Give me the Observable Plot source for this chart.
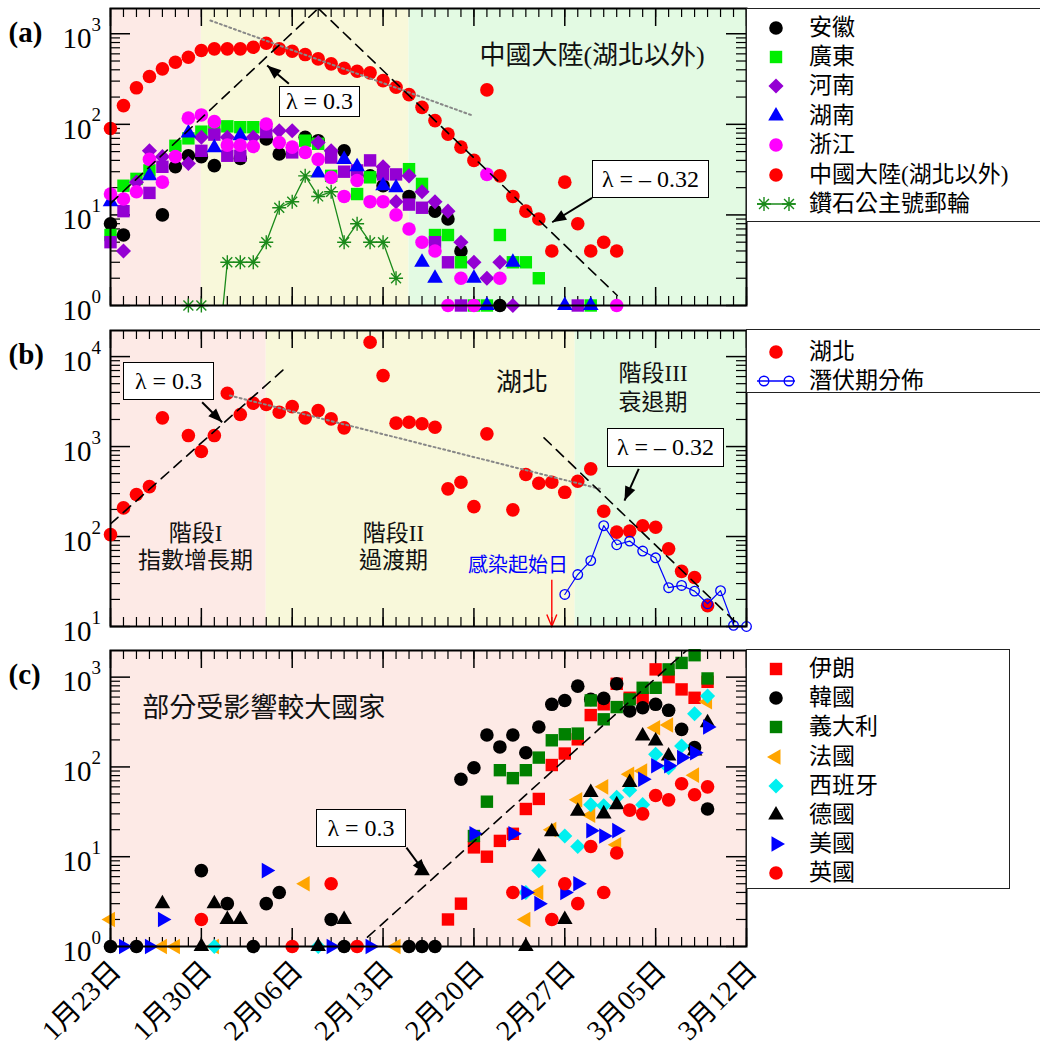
<!DOCTYPE html>
<html><head><meta charset="utf-8">
<script src="https://cdn.jsdelivr.net/npm/d3@7"></script>
<script src="https://cdn.jsdelivr.net/npm/@observablehq/plot@0.6"></script>
<style>
body{margin:0;background:#fff;}
#wrap{position:relative;width:1040px;height:1049px;overflow:hidden;font-family:'Liberation Serif','Noto Sans CJK TC',serif;}
.panel{position:absolute;left:0;}
.lbox{position:absolute;border:1.5px solid #000;background:#fff;font-size:24px;display:flex;align-items:center;justify-content:center;white-space:nowrap;box-sizing:border-box}
.legend{position:absolute;border:1.2px solid #222;background:#fff;box-sizing:border-box}
.legend .txt{position:absolute;left:62px;font-size:23px;line-height:28px;height:28px;white-space:nowrap}
</style></head><body><div id="wrap"></div><script>
// ---------- axis data ----------
const xTickDays = [0,7,14,21,28,35,42,49];
const xTickLabels = ["1月23日","1月30日","2月06日","2月13日","2月20日","2月27日","3月05日","3月12日"];
const allDays = d3.range(0,50);

// ---------- panel (a) : [day, value] ----------
const anhui = [[0,8],[1,6],[4,10],[5,34],[6,45],[7,44],[8,35],[10,42],[12,69],[13,47],[15,72],[16,66],[18,51],[20,27],[21,21],[23,16],[25,11],[26,9],[27,4],[30,1]];
const guangdong = [[0,6],[1,21],[2,25],[3,31],[5,58],[6,70],[7,83],[8,93],[9,95],[10,93],[11,93],[15,66],[16,61],[17,27],[19,17],[20,26],[23,32],[24,22],[25,6],[26,6],[27,3],[28,1],[29,1],[30,6],[31,3],[32,3],[33,2],[37,1]];
const henanSq = [[0,5],[1,11],[3,17.5],[4,34],[7,51],[8,77],[9,45],[10,45],[12,82],[14,49],[17,43],[18,30],[19,31],[20,40],[21,28],[22,28],[23,13],[24,12],[25,5],[26,3],[27,1],[36,1]];
const henan = [[1,4],[2,23],[3,51],[4,44],[6,37],[7,72],[9,72],[11,72],[13,85],[14,85],[16,63],[17,51],[21,34],[22,14],[23,27],[24,18],[25,14],[26,11],[27,5],[28,3],[29,2],[30,3],[31,1]];
const hunan = [[0,14],[3,27],[6,80],[8,55],[10,75],[16,29],[18,41],[19,34],[21,21],[22,20],[24,3],[25,2],[28,2],[29,1],[31,3],[35,1],[37,1]];
const zhejiang = [[0,17],[1,15],[2,18],[3,41],[4,23],[5,44],[6,117],[7,127],[8,107],[9,59],[10,59],[11,57],[12,101],[13,63],[14,56],[15,49],[16,41],[17,26],[18,16],[19,24],[20,14],[21,14],[22,10],[23,7],[24,5],[25,4],[26,1],[27,2],[28,1],[29,28],[30,2],[39,1]];
const chinaDays = d3.range(0,40);
const chinaVals = [90,161,253,337,410,485,550,653,681,681,681,710,785,681,641,589,528,465,416,385,370,304,257,213,154,110,78,56,40,240,27,16,11,9,4,23,8,4,5,4];
const cruise = [[6,1],[7,1],[8,0],[9,3],[10,3],[11,3],[12,5],[13,12],[14,14],[15,27],[16,16],[17,18],[18,5],[19,8],[20,5],[21,5],[22,2]];
const fitA_up = [[0,13.4],[16,1900]];
const fitA_down = [[16.05,1880],[39.04,1.29]];
const trendA = [[7.7,1400],[27.9,125]];

// ---------- panel (b) ----------
const hubei = [[0,105],[1,208],[2,293],[3,359],[4,2085],[6,1325],[7,880],[8,1325],[9,3910],[10,2270],[11,3030],[12,2930],[13,2405],[14,2780],[15,2085],[16,2510],[17,2030],[18,1615],[20,14420],[21,6150],[22,1820],[23,1860],[24,1790],[25,1640],[26,339],[27,401],[28,215],[29,1385],[31,198],[32,489],[33,391],[34,401],[35,310],[36,411],[37,565],[38,191],[39,112],[40,115],[41,132],[42,127],[43,73],[44,41],[45,35],[46,17]];
const incubation = [[35,22.7],[36,37.8],[37,54],[38,132],[39,81],[40,89],[41,69],[42,58],[43,27],[44,28.6],[45,24.7],[46,17.9],[47,25],[48,10.3],[49,10]];
const fitB_up = [[0,138],[13.3,7110]];
const fitB_down = [[33.4,1250],[48.6,9.7]];
const trendB = [[9.2,3690],[37.7,339]];

// ---------- panel (c) ----------
const iran = [[26,2],[27,3],[28,12.7],[29,10],[30,15],[31,18],[32,34],[33,44],[34,105],[35,141],[36,203],[37,378],[38,498],[39,843],[40,589],[41,589],[42,1220],[43,1000],[44,730],[45,589],[46,887]];
const korea = [[0,1],[2,1],[7,7],[9,3],[11,1],[12,3],[13,4],[17,2],[18,1],[23,1],[24,1],[25,1],[27,73],[28,98],[29,227],[30,167],[31,227],[32,144],[33,278],[34,498],[35,550],[36,794],[37,565],[38,580],[39,843],[40,419],[41,456],[42,498],[43,427],[44,262],[45,164],[46,34]];
const italy = [[28,17],[29,41],[30,92],[31,75],[32,92],[33,127],[34,198],[35,231],[36,235],[37,550],[38,339],[39,464],[40,565],[41,761],[42,761],[43,1220],[44,1440],[45,1755],[46,967]];
const france = [[0,2],[4,1],[5,1],[8,1],[15,5],[22,1],[32,2],[33,4],[34,20],[36,43],[37,29],[38,60],[39,13.6],[40,83],[41,90],[42,273],[43,293],[45,81],[46,532]];
const spain = [[8,1],[16,1],[32,4],[33,7],[35,17],[36,13],[37,38],[38,37],[39,46],[40,55],[41,38],[42,138],[43,98],[44,171],[45,391],[46,615]];
const germany = [[4,3],[7,1],[8,3],[9,2],[10,2],[16,1],[18,2],[24,7],[32,1],[33,10],[34,19],[35,2],[36,32],[37,52],[38,30],[39,38],[40,67],[41,221],[42,194],[43,132],[45,150],[46,310]];
const usa = [[1,1],[3,1],[4,2],[12,7],[17,1],[20,1],[28,18],[31,18],[32,4],[33,3],[35,4],[36,5],[37,19.5],[38,17],[39,19.5],[41,73],[42,103],[43,103],[44,127],[45,144],[46,278]];
const uk = [[7,2],[14,1],[17,5],[19,1],[31,4],[34,2],[35,5],[36,3],[37,13],[38,4],[39,11],[40,33],[41,30],[42,48],[43,43],[44,65],[45,49],[46,60]];
const fitC_up = [[19.8,1.27],[44.4,1995]];

// ---------- annotations ----------
const annA = [{d:37.1,v:575,text:"中國大陸(湖北以外)",size:26,color:"#111"}];
const annB = [
  {d:31.7,v:5140,text:"湖北",size:26,color:"#111"},
  {d:41.8,v:6470,text:"階段III",size:23,color:"#111"},
  {d:41.8,v:3080,text:"衰退期",size:23,color:"#111"},
  {d:6.55,v:108,text:"階段I",size:23,color:"#111"},
  {d:6.55,v:54,text:"指數增長期",size:23,color:"#111"},
  {d:21.8,v:108,text:"階段II",size:23,color:"#111"},
  {d:21.8,v:54,text:"過渡期",size:23,color:"#111"},
  {d:31.4,v:47.6,text:"感染起始日",size:20,color:"#0000ff"}];
const annC = [{d:11.8,v:452,text:"部分受影響較大國家",size:27,color:"#111"}];
const arrowsA = [{x1:13.74,y1:280,x2:12.07,y2:446,dx:-21.6,dy:-18.3},{x1:37.1,y1:15.4,x2:34.03,y2:8.3,dx:-40,dy:24.4}];
const arrowsB = [{x1:7.06,y1:3105,x2:8.6,y2:1862,dx:20,dy:20},{x1:40.7,y1:565,x2:39.6,y2:251,dx:-14.3,dy:31.7}];
const arrowsC = [{x1:22.8,y1:12.6,x2:24.27,y2:6.5,dx:19,dy:26}];
const onsetArrow = [{x1:34,y1:33,x2:34,y2:10}];

// ---------- styling ----------
const FONT = "'Liberation Serif','Noto Sans CJK TC',serif";
const PINK="#fdeae6", YELLOW="#f8f8da", GREEN="#e3fae3";
const sqrt3 = Math.sqrt(3);
const triRight = {draw(ctx,size){const y=-Math.sqrt(size/(sqrt3*3));ctx.moveTo(-2*y,0);ctx.lineTo(y,-sqrt3*y);ctx.lineTo(y,sqrt3*y);ctx.closePath();}};
const triLeft = {draw(ctx,size){const y=-Math.sqrt(size/(sqrt3*3));ctx.moveTo(2*y,0);ctx.lineTo(-y,-sqrt3*y);ctx.lineTo(-y,sqrt3*y);ctx.closePath();}};
const star8 = {draw(ctx,size){const r=Math.sqrt(size/Math.PI),d=r*Math.SQRT1_2;ctx.moveTo(-r,0);ctx.lineTo(r,0);ctx.moveTo(0,-r);ctx.lineTo(0,r);ctx.moveTo(-d,-d);ctx.lineTo(d,d);ctx.moveTo(-d,d);ctx.lineTo(d,-d);}};
function headSymbol(dx,dy){const a=Math.atan2(dy,dx),c=Math.cos(a),s=Math.sin(a);
  return {draw(ctx){const L=14,w=5.5;const p=[[0,0],[-L,-w],[-L,w]].map(([x,y])=>[x*c-y*s,x*s+y*c]);
    ctx.moveTo(p[0][0],p[0][1]);ctx.lineTo(p[1][0],p[1][1]);ctx.lineTo(p[2][0],p[2][1]);ctx.closePath();}};}
function openHead(){return {draw(ctx){ctx.moveTo(-5,-12);ctx.lineTo(0,0);ctx.lineTo(5,-12);}};}

const S = {
  circle:{symbol:d3.symbolCircle,r:6.8},
  square:{symbol:d3.symbolSquare,r:7},
  diamond:{symbol:d3.symbolDiamond2,r:6.8},
  tri:{symbol:d3.symbolTriangle,r:5.8},
  triL:{symbol:triLeft,r:5.8},
  triR:{symbol:triRight,r:5.8},
};
const dots = (data, sym, color) => Plot.dot(data,{x:d=>d[0],y:d=>d[1],symbol:sym.symbol,r:sym.r,fill:color,stroke:"none"});

const W = 636;
function minorTicks(lo,hi,dom){const out=[];for(let e=lo;e<hi;e++)for(let m=2;m<=9;m++){const v=m*10**e;if(v>dom[0]&&v<dom[1])out.push(v);}return out;}
function frameMarks(H, decades, dom, label){
  const lo=Math.round(Math.log10(dom[0])), hi=Math.ceil(Math.log10(dom[1]));
  const minor=minorTicks(lo,hi,dom);
  return [
    Plot.tickX(allDays,{x:d=>d,insetTop:H-9,stroke:"#000",strokeWidth:1.2}),
    Plot.tickX(xTickDays,{x:d=>d,insetTop:H-18,stroke:"#000",strokeWidth:1.5}),
    Plot.tickX(allDays,{x:d=>d,insetBottom:H-9,stroke:"#000",strokeWidth:1.2}),
    Plot.tickX(xTickDays,{x:d=>d,insetBottom:H-18,stroke:"#000",strokeWidth:1.5}),
    Plot.tickY(minor,{y:d=>d,insetRight:W-10,stroke:"#000",strokeWidth:1.2}),
    Plot.tickY(decades,{y:d=>d,insetRight:W-20,stroke:"#000",strokeWidth:1.5}),
    Plot.tickY(minor,{y:d=>d,insetLeft:W-10,stroke:"#000",strokeWidth:1.2}),
    Plot.tickY(decades,{y:d=>d,insetLeft:W-20,stroke:"#000",strokeWidth:1.5}),
    Plot.text(decades,{y:d=>d,text:()=>"10",frameAnchor:"left",textAnchor:"end",dx:-19,dy:5,fontSize:29,fill:"#000"}),
    Plot.text(decades,{y:d=>d,text:d=>String(Math.round(Math.log10(d))),frameAnchor:"left",textAnchor:"start",dx:-19,dy:-9,fontSize:19,fill:"#000"}),
    Plot.text([label],{frameAnchor:"top-left",text:d=>d,textAnchor:"start",dx:-102,dy:13,fontSize:29,fontWeight:"bold",fill:"#000"})
  ];
}
function bandMarks(bands){return bands.map(b=>Plot.rect([b],{x1:d=>d[0],x2:d=>d[1],fill:b[2]}));}
function annMarks(ann){return ann.map(a=>Plot.text([a],{x:"d",y:"v",text:"text",fontSize:a.size,fill:a.color}));}
function arrowMarks(arr){return [
  Plot.link(arr,{x1:"x1",y1:"y1",x2:"x2",y2:"y2",stroke:"#000",strokeWidth:2}),
  ...arr.map(a=>Plot.dot([a],{x:"x2",y:"y2",symbol:headSymbol(a.dx,a.dy),r:5,fill:"#000",stroke:"none"}))];}
const fitLine = (data,dash,color,w) => Plot.line(data,{x:d=>d[0],y:d=>d[1],stroke:color,strokeWidth:w,strokeDasharray:dash,clip:true});

function mkPlot(height, marginBottom, dom, marks){
  return Plot.plot({width:1040,height,marginLeft:110,marginRight:294,marginTop:8,marginBottom,
    x:{domain:[0,49],axis:null},y:{type:"log",domain:dom,axis:null},
    style:{background:"transparent",overflow:"visible",fontFamily:FONT},marks});
}

const wrap = document.getElementById("wrap");
function place(el, top){const d=document.createElement("div");d.className="panel";d.style.top=top+"px";d.appendChild(el);wrap.appendChild(d);}

// panel a
const domA=[1,1900];
place(mkPlot(330,25,domA,[
  ...bandMarks([[0,7,PINK],[7,23,YELLOW],[23,49,GREEN]]),
  ...frameMarks(297,[1,10,100,1000],domA,"(a)"),
  dots(anhui,S.circle,"#000"),
  dots(guangdong,S.square,"#00ee00"),
  dots(henanSq,S.square,"#9400d3"),
  dots(henan,S.diamond,"#9400d3"),
  dots(hunan,S.tri,"#0000ff"),
  dots(zhejiang,S.circle,"#ff00ff"),
  Plot.line(cruise,{x:d=>d[0],y:d=>d[1]>0?d[1]:0.1,stroke:"#1a8a1a",strokeWidth:1.3,clip:true}),
  Plot.dot(cruise.filter(d=>d[1]>0),{x:d=>d[0],y:d=>d[1],symbol:star8,r:7,fill:"none",stroke:"#1a8a1a",strokeWidth:1.4}),
  Plot.dot(chinaDays,{x:d=>d,y:(d,i)=>chinaVals[i],symbol:d3.symbolCircle,r:6.8,fill:"#ff0000"}),
  fitLine(trendA,"2,3","#888",2),
  fitLine(fitA_up,"10,7","#000",1.6),
  fitLine(fitA_down,"10,7","#000",1.6),
  ...arrowMarks(arrowsA),
  ...annMarks(annA),
  Plot.frame({stroke:"#000",strokeWidth:2})
]),0);

// panel b
const domB=[10,19500];
place(mkPlot(330,26,domB,[
  ...bandMarks([[0,12,PINK],[12,35.8,YELLOW],[35.8,49,GREEN]]),
  ...frameMarks(296,[10,100,1000,10000],domB,"(b)"),
  dots(hubei,S.circle,"#ff0000"),
  Plot.line(incubation,{x:d=>d[0],y:d=>d[1],stroke:"#0000ff",strokeWidth:1.2}),
  Plot.dot(incubation,{x:d=>d[0],y:d=>d[1],r:4.8,fill:"none",stroke:"#0000ff",strokeWidth:1.3}),
  fitLine(trendB,"2,3","#888",2),
  fitLine(fitB_up,"10,7","#000",1.6),
  fitLine(fitB_down,"10,7","#000",1.6),
  ...arrowMarks(arrowsB),
  Plot.link(onsetArrow,{x1:"x1",y1:"y1",x2:"x2",y2:"y2",stroke:"#ff0000",strokeWidth:1.4}),
  Plot.dot(onsetArrow,{x:"x2",y:"y2",symbol:openHead(),r:5,fill:"none",stroke:"#ff0000",strokeWidth:1.4}),
  ...annMarks(annB),
  Plot.frame({stroke:"#000",strokeWidth:2})
]),322);

// panel c
const domC=[1,1980];
place(mkPlot(407,103,domC,[
  ...bandMarks([[0,49,PINK]]),
  ...frameMarks(296,[1,10,100,1000],domC,"(c)"),
  dots(iran,S.square,"#ff0000"),
  dots(korea,S.circle,"#000"),
  dots(italy,S.square,"#008000"),
  dots(france,S.triL,"#ffa500"),
  dots(spain,S.diamond,"#00f0f0"),
  dots(germany,S.tri,"#000"),
  dots(usa,S.triR,"#0000ff"),
  dots(uk,S.circle,"#ff0000"),
  fitLine(fitC_up,"10,7","#000",1.6),
  ...arrowMarks(arrowsC),
  ...annMarks(annC),
  Plot.frame({stroke:"#000",strokeWidth:2}),
  Plot.text(xTickDays,{x:d=>d,text:(d,i)=>xTickLabels[i],frameAnchor:"bottom",rotate:-45,textAnchor:"end",dx:12,dy:26,fontSize:28,fill:"#000"})
]),642);

// ---------- lambda boxes ----------
const lboxes = [
  {left:279,top:86,w:81,h:31,text:"λ = 0.3"},
  {left:592,top:160,w:117,h:38,text:"λ = – 0.32"},
  {left:123,top:362,w:91,h:38,text:"λ = 0.3"},
  {left:607,top:428,w:117,h:39,text:"λ = – 0.32"},
  {left:316,top:809,w:90,h:38,text:"λ = 0.3"}];
lboxes.forEach(b=>{const d=document.createElement("div");d.className="lbox";
  Object.assign(d.style,{left:b.left+"px",top:b.top+"px",width:b.w+"px",height:b.h+"px"});d.textContent=b.text;wrap.appendChild(d);});

// ---------- legends ----------
const NS="http://www.w3.org/2000/svg";
function legend(cfg){
  const box=document.createElement("div");box.className="legend";
  Object.assign(box.style,{left:cfg.left+"px",top:cfg.top+"px",width:cfg.width+"px",height:cfg.height+"px"});
  cfg.rows.forEach((r,i)=>{
    const cy=cfg.first+cfg.step*i;
    const svg=document.createElementNS(NS,"svg");svg.setAttribute("width",60);svg.setAttribute("height",30);
    svg.style.position="absolute";svg.style.left="0px";svg.style.top=(cy-15)+"px";svg.style.overflow="visible";
    const xs=r.line?[17,42]:[29];
    if(r.line){const l=document.createElementNS(NS,"line");l.setAttribute("x1",10);l.setAttribute("x2",48);l.setAttribute("y1",15);l.setAttribute("y2",15);l.setAttribute("stroke",r.color);l.setAttribute("stroke-width",1.3);svg.appendChild(l);}
    xs.forEach(x=>{const p=document.createElementNS(NS,"path");p.setAttribute("d",d3.symbol(r.sym.symbol,Math.PI*r.sym.r*r.sym.r)());
      p.setAttribute("transform",`translate(${x},15)`);
      if(r.open){p.setAttribute("fill","none");p.setAttribute("stroke",r.color);p.setAttribute("stroke-width",1.4);}else{p.setAttribute("fill",r.color);}
      svg.appendChild(p);});
    box.appendChild(svg);
    const t=document.createElement("div");t.className="txt";t.style.top=(cy-14)+"px";t.textContent=r.label;box.appendChild(t);
  });
  wrap.appendChild(box);
}
legend({left:746,top:8,width:300,height:214,first:18.5,step:29.4,rows:[
  {label:"安徽",sym:S.circle,color:"#000"},
  {label:"廣東",sym:S.square,color:"#00ee00"},
  {label:"河南",sym:S.diamond,color:"#9400d3"},
  {label:"湖南",sym:S.tri,color:"#0000ff"},
  {label:"浙江",sym:S.circle,color:"#ff00ff"},
  {label:"中國大陸(湖北以外)",sym:S.circle,color:"#ff0000"},
  {label:"鑽石公主號郵輪",sym:{symbol:star8,r:7},color:"#1a8a1a",open:true,line:true}]});
legend({left:746,top:329,width:300,height:64,first:22,step:29,rows:[
  {label:"湖北",sym:S.circle,color:"#ff0000"},
  {label:"潛伏期分佈",sym:{symbol:d3.symbolCircle,r:4.8},color:"#0000ff",open:true,line:true}]});
legend({left:746,top:649,width:264,height:240,first:19,step:29.2,rows:[
  {label:"伊朗",sym:S.square,color:"#ff0000"},
  {label:"韓國",sym:S.circle,color:"#000"},
  {label:"義大利",sym:S.square,color:"#008000"},
  {label:"法國",sym:S.triL,color:"#ffa500"},
  {label:"西班牙",sym:S.diamond,color:"#00f0f0"},
  {label:"德國",sym:S.tri,color:"#000"},
  {label:"美國",sym:S.triR,color:"#0000ff"},
  {label:"英國",sym:S.circle,color:"#ff0000"}]});
</script></body></html>
